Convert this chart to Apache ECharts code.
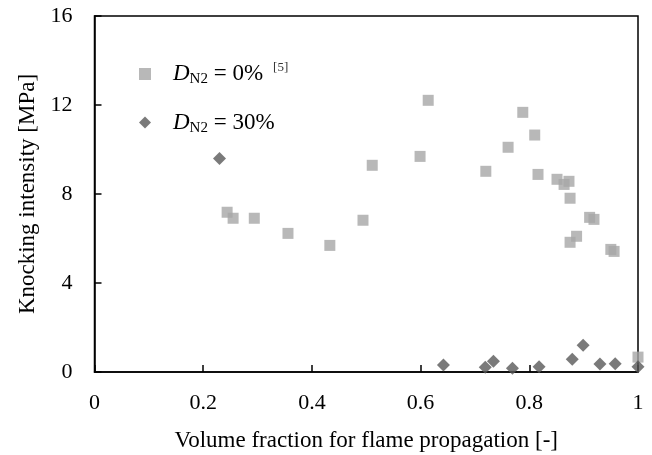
<!DOCTYPE html>
<html>
<head>
<meta charset="utf-8">
<script src="https://cdn.jsdelivr.net/npm/echarts@6/dist/echarts.min.js"></script>
<style>
  html, body { margin: 0; padding: 0; background: #fff; }
  #main { width: 652px; height: 455px; }
</style>
</head>
<body>
<div id="main"></div>
<script>
// D_N2 = 0% (ref [5])
var n2zeroX = [0.244, 0.255, 0.294, 0.356, 0.433, 0.494, 0.511, 0.599, 0.614, 0.720, 0.761, 0.788, 0.810,
               0.816, 0.851, 0.864, 0.873, 0.875, 0.875, 0.887, 0.911, 0.919, 0.950, 0.956, 1.0];
var n2zeroY = [7.18, 6.91, 6.91, 6.23, 5.69, 6.82, 9.29, 9.69, 12.21, 9.02, 10.10, 11.67, 10.65,
               8.88, 8.66, 8.43, 8.57, 7.81, 5.83, 6.10, 6.95, 6.86, 5.51, 5.42, 0.67];
// D_N2 = 30%
var n2thirtyX = [0.230, 0.642, 0.719, 0.734, 0.769, 0.818, 0.879, 0.899, 0.930, 0.958, 1.0];
var n2thirtyY = [9.60, 0.31, 0.21, 0.48, 0.17, 0.24, 0.57, 1.20, 0.36, 0.37, 0.24];

var xTicks = [0, 0.2, 0.4, 0.6, 0.8, 1];
var yTicks = [0, 4, 8, 12, 16];

function pairs(xs, ys) {
  return xs.map(function (x, i) { return [x, ys[i]]; });
}

var serif = 'Liberation Serif';
var chart = echarts.init(document.getElementById('main'));

chart.setOption({
  animation: false,
  grid: {
    left: 94.5, right: 14, top: 16, bottom: 83,
    outerBoundsMode: 'none',
    show: true, borderColor: '#000', borderWidth: 1.5
  },
  xAxis: {
    type: 'value',
    min: xTicks[0], max: xTicks[xTicks.length - 1], interval: 0.2,
    name: 'Volume fraction for flame propagation [-]',
    nameLocation: 'middle', nameGap: 57,
    nameTextStyle: { fontFamily: serif, fontSize: 23, color: '#000' },
    axisLine: { lineStyle: { color: '#000', width: 1.5 } },
    axisTick: { inside: true, length: 7, lineStyle: { color: '#000', width: 1.5 } },
    axisLabel: { fontFamily: serif, fontSize: 22, color: '#000', margin: 20 },
    splitLine: { show: false }
  },
  yAxis: {
    type: 'value',
    min: yTicks[0], max: yTicks[yTicks.length - 1], interval: 4,
    name: 'Knocking intensity [MPa]',
    nameLocation: 'middle', nameGap: 55,
    nameTextStyle: { fontFamily: serif, fontSize: 23, color: '#000' },
    axisLine: { lineStyle: { color: '#000', width: 1.5 } },
    axisTick: { inside: true, length: 7, lineStyle: { color: '#000', width: 1.5 } },
    axisLabel: { fontFamily: serif, fontSize: 22, color: '#000', margin: 22 },
    splitLine: { show: false }
  },
  legend: {
    orient: 'vertical',
    left: 134, top: 56,
    itemWidth: 12, itemHeight: 12, itemGap: 24,
    formatter: function (name) {
      if (name === 'n2zero') return '{g|}{i|D}{s|N2}{t| = 0%}{r|[5]}';
      return '{g|}{i|D}{s|N2}{t| = 30%}';
    },
    textStyle: {
      fontFamily: serif, color: '#000',
      rich: {
        g: { width: 17 },
        i: { fontFamily: serif, fontStyle: 'italic', fontSize: 23, lineHeight: 26 },
        s: { fontFamily: serif, fontSize: 15, lineHeight: 14, verticalAlign: 'bottom' },
        t: { fontFamily: serif, fontSize: 23, lineHeight: 26 },
        r: { fontFamily: serif, fontSize: 13, lineHeight: 13, verticalAlign: 'top', padding: [0, 0, 0, 10], color: '#333' }
      }
    },
    data: ['n2zero', 'n2thirty']
  },
  series: [
    {
      name: 'n2zero',
      type: 'scatter',
      symbol: 'rect',
      symbolSize: 11,
      clip: false,
      itemStyle: { color: '#a6a6a6' },
      data: pairs(n2zeroX, n2zeroY)
    },
    {
      name: 'n2thirty',
      type: 'scatter',
      symbol: 'diamond',
      symbolSize: 13,
      clip: false,
      itemStyle: { color: '#595959' },
      data: pairs(n2thirtyX, n2thirtyY)
    }
  ]
});
</script>
</body>
</html>
